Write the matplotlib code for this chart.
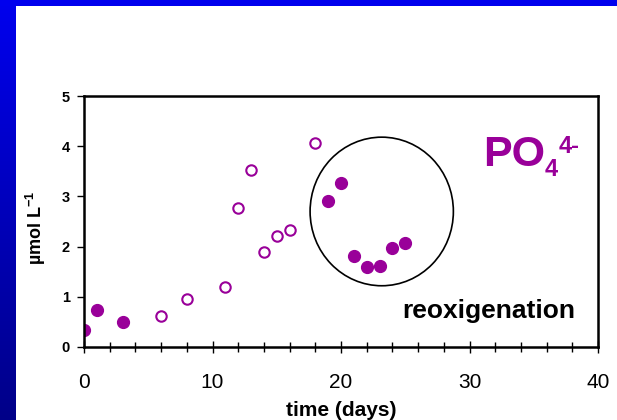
import numpy as np
import matplotlib.pyplot as plt
from matplotlib.patches import Ellipse, Rectangle
from matplotlib.colors import LinearSegmentedColormap

plt.rcParams['font.family'] = ['Liberation Sans', 'DejaVu Sans']
plt.rcParams['mathtext.fontset'] = 'custom'
plt.rcParams['mathtext.rm'] = 'Liberation Sans'
plt.rcParams['mathtext.bf'] = 'Liberation Sans:bold'

purple = '#990099'

# filled points: before and during reoxigenation
day_filled = [0, 1, 3, 19, 20, 21, 22, 23, 24, 25]
po4_filled = [0.33, 0.73, 0.49, 2.91, 3.26, 1.82, 1.59, 1.62, 1.97, 2.07]

# open points: anoxic period
day_open = [6, 8, 11, 12, 13, 14, 15, 16, 18]
po4_open = [0.62, 0.96, 1.20, 2.77, 3.53, 1.89, 2.21, 2.33, 4.06]

fig = plt.figure(figsize=(6.17, 4.2), dpi=100)

# slide frame: blue bars
fig.add_artist(Rectangle((0, 1 - 6 / 420), 1, 6 / 420, transform=fig.transFigure,
                         color='#0000ee', lw=0))
bar = fig.add_axes([0, 0, 16 / 617, 1])
grad = np.linspace(0, 1, 256).reshape(-1, 1)
bcmap = LinearSegmentedColormap.from_list('b', ['#000088', '#0000ee'])
bar.imshow(grad, aspect='auto', cmap=bcmap, origin='lower', extent=[0, 1, 0, 1])
bar.axis('off')

ax = fig.add_axes([84 / 617, 73 / 420, 514 / 617, 251 / 420])
ax.plot(day_filled, po4_filled, 'o', color=purple, ms=8.5, mec=purple)
ax.plot(day_open, po4_open, 'o', color=purple, ms=7.5, mfc='white', mec=purple, mew=1.5)

ax.add_patch(Ellipse((23.17, 2.70), 11.15, 2.96, fill=False, ec='black', lw=1.2))

ax.set_xlim(0, 40)
ax.set_ylim(0, 5)
ax.set_xticks([0, 10, 20, 30, 40])
ax.set_xticks(np.arange(0, 41, 2), minor=True)
ax.set_yticks([0, 1, 2, 3, 4, 5])
for s in ax.spines.values():
    s.set_linewidth(1.8)
ax.tick_params(axis='x', which='major', direction='inout', length=9, width=1, labelsize=15, pad=14)
ax.tick_params(axis='x', which='minor', direction='inout', length=7, width=1)
ax.tick_params(axis='y', direction='out', length=5, width=1, labelsize=10.5, pad=5)
for t in ax.get_yticklabels():
    t.set_fontweight('bold')

ax.set_xlabel('time (days)', fontsize=15, fontweight='bold', labelpad=7)
ax.set_ylabel(r'µmol L$^{\mathbf{-1}}$', fontsize=13, fontweight='bold')
ax.yaxis.set_label_coords(-0.07, 0.476)

ax.text(0.62, 0.115, 'reoxigenation', transform=ax.transAxes, fontsize=19,
        fontweight='bold', ha='left', va='baseline')

fig.text(483 / 617, 1 - 166 / 420, 'PO', fontsize=31, fontweight='bold', color=purple,
         ha='left', va='baseline')
fig.text(545 / 617, 1 - 176 / 420, '4', fontsize=17, fontweight='bold', color=purple,
         ha='left', va='baseline')
fig.text(559 / 617, 1 - 153 / 420, '4-', fontsize=17, fontweight='bold', color=purple,
         ha='left', va='baseline')

fig.savefig('out.png', dpi=100)
